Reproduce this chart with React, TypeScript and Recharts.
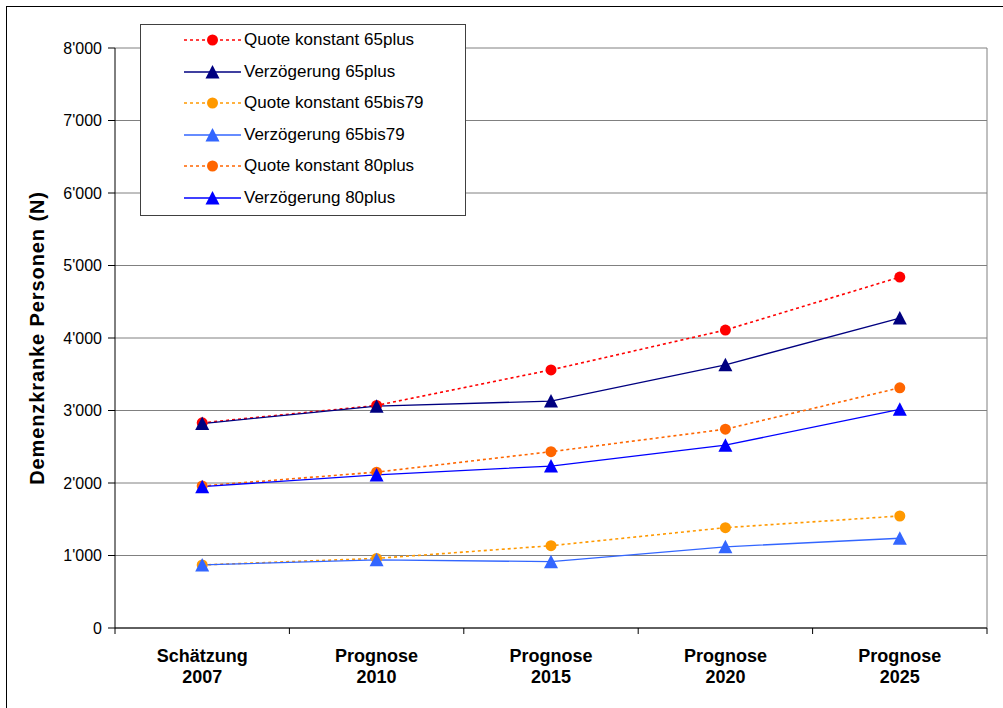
import React from 'react';
import {
  LineChart,
  Line,
  XAxis,
  YAxis,
  CartesianGrid,
  ReferenceLine,
} from 'recharts';

const catTop = ['Schätzung', 'Prognose', 'Prognose', 'Prognose', 'Prognose'];
const catYear = ['2007', '2010', '2015', '2020', '2025'];

const quote65plus = [2830, 3070, 3560, 4110, 4840];
const verz65plus = [2820, 3060, 3130, 3630, 4275];
const quote65bis79 = [870, 960, 1135, 1384, 1545];
const verz65bis79 = [870, 940, 915, 1120, 1238];
const quote80plus = [1960, 2150, 2432, 2742, 3313];
const verz80plus = [1950, 2112, 2234, 2522, 3016];

const yTicks = [0, 1000, 2000, 3000, 4000, 5000, 6000, 7000, 8000];

const series = [
  { key: 'q65', name: 'Quote konstant 65plus', values: quote65plus, color: '#ff0000', dotted: true },
  { key: 'v65', name: 'Verzögerung 65plus', values: verz65plus, color: '#000080', dotted: false },
  { key: 'q6579', name: 'Quote konstant 65bis79', values: quote65bis79, color: '#ff9900', dotted: true },
  { key: 'v6579', name: 'Verzögerung 65bis79', values: verz65bis79, color: '#3366ff', dotted: false },
  { key: 'q80', name: 'Quote konstant 80plus', values: quote80plus, color: '#ff6600', dotted: true },
  { key: 'v80', name: 'Verzögerung 80plus', values: verz80plus, color: '#0000ff', dotted: false },
];

const data = catYear.map((_, i) => {
  const row: Record<string, number> = { x: i + 0.5 };
  series.forEach((s) => {
    row[s.key] = s.values[i];
  });
  return row;
});

const FONT = '"Liberation Sans", Arial, sans-serif';

const fmt = (v: number) =>
  v >= 1000 ? `${Math.floor(v / 1000)}'${String(v % 1000).padStart(3, '0')}` : String(v);

const Marker = ({ cx, cy, color, tri }: any) => {
  if (cx == null || cy == null) return null;
  if (tri) {
    return (
      <path
        d={`M${cx},${cy - 7} L${cx + 7},${cy + 6.5} L${cx - 7},${cy + 6.5} Z`}
        fill={color}
        stroke="none"
      />
    );
  }
  return <circle cx={cx} cy={cy} r={5.5} fill={color} stroke="none" />;
};

const XTick = ({ x, y, payload }: any) => {
  const v = payload.value;
  if (Number.isInteger(v)) {
    return <line x1={x} x2={x} y1={y} y2={y + 6} stroke="#000" strokeWidth={1} />;
  }
  const i = Math.floor(v);
  return (
    <text x={x} textAnchor="middle" fontFamily={FONT} fontWeight="bold" fontSize={18} fill="#000">
      <tspan x={x} y={y + 34}>{catTop[i]}</tspan>
      <tspan x={x} y={y + 55}>{catYear[i]}</tspan>
    </text>
  );
};

const LegendBox = () => (
  <div
    style={{
      position: 'absolute',
      left: 140,
      top: 24,
      width: 326,
      height: 192,
      border: '1px solid #404040',
      background: '#fff',
      boxSizing: 'border-box',
      fontFamily: FONT,
      fontSize: 17,
    }}
  >
    {series.map((s, i) => (
      <div
        key={s.key}
        style={{ position: 'absolute', left: 42, top: 2 + i * 31.6, height: 26, display: 'flex', alignItems: 'center' }}
      >
        <svg width={60} height={26}>
          <line
            x1={1}
            x2={58}
            y1={13}
            y2={13}
            stroke={s.color}
            strokeWidth={s.dotted ? 1.5 : 1.3}
            strokeDasharray={s.dotted ? '3 3' : undefined}
          />
          <Marker cx={29.5} cy={13} color={s.color} tri={!s.dotted} />
        </svg>
        <span style={{ marginLeft: 1, whiteSpace: 'nowrap', color: '#000' }}>{s.name}</span>
      </div>
    ))}
  </div>
);

export default function App() {
  return (
    <div style={{ position: 'fixed', left: 0, top: 0, width: 1003, height: 708, overflow: 'hidden', background: '#fff' }}>
      <div
        style={{
          position: 'absolute',
          left: 6,
          top: 6,
          width: 1010,
          height: 720,
          border: '1px solid #000',
        }}
      />
      <div style={{ position: 'absolute', left: 0, top: 0 }}>
        <LineChart width={1003} height={708} data={data} margin={{ top: 48, right: 16, bottom: 0, left: 0 }}>
          <CartesianGrid horizontal vertical={false} stroke="#808080" strokeWidth={1} />
          <XAxis
            dataKey="x"
            type="number"
            domain={[0, 5]}
            ticks={[0, 0.5, 1, 1.5, 2, 2.5, 3, 3.5, 4, 4.5, 5]}
            allowDecimals
            interval={0}
            tickLine={false}
            tickSize={0}
            tickMargin={0}
            tick={<XTick />}
            axisLine={{ stroke: '#000', strokeWidth: 1 }}
            height={80}
          />
          <YAxis
            domain={[0, 8000]}
            ticks={yTicks}
            interval={0}
            width={115}
            tickSize={7}
            tickMargin={6}
            tickFormatter={fmt}
            tick={{ fontFamily: FONT, fontSize: 16, fill: '#000' }}
            tickLine={{ stroke: '#000' }}
            axisLine={{ stroke: '#000', strokeWidth: 1 }}
            label={{
              content: (props: any) => {
                const vb = props.viewBox || {};
                const cy = (vb.y ?? 48) + (vb.height ?? 580) / 2;
                return (
                  <text
                    x={37}
                    y={cy}
                    transform={`rotate(-90, 37, ${cy})`}
                    textAnchor="middle"
                    dominantBaseline="central"
                    fontFamily={FONT}
                    fontWeight="bold"
                    fontSize={20}
                    letterSpacing={0.9}
                    fill="#000"
                  >
                    Demenzkranke Personen (N)
                  </text>
                );
              },
            }}
          />
          <ReferenceLine x={5} stroke="#808080" strokeWidth={1} />
          {series.map((s) => (
            <Line
              key={s.key}
              dataKey={s.key}
              name={s.name}
              type="linear"
              stroke={s.color}
              strokeWidth={s.dotted ? 1.6 : 1.3}
              strokeDasharray={s.dotted ? '3 3' : undefined}
              dot={(p: any) => <Marker key={`${s.key}-${p.index}`} cx={p.cx} cy={p.cy} color={s.color} tri={!s.dotted} />}
              activeDot={false}
              isAnimationActive={false}
            />
          ))}
        </LineChart>
      </div>
      <LegendBox />
    </div>
  );
}
